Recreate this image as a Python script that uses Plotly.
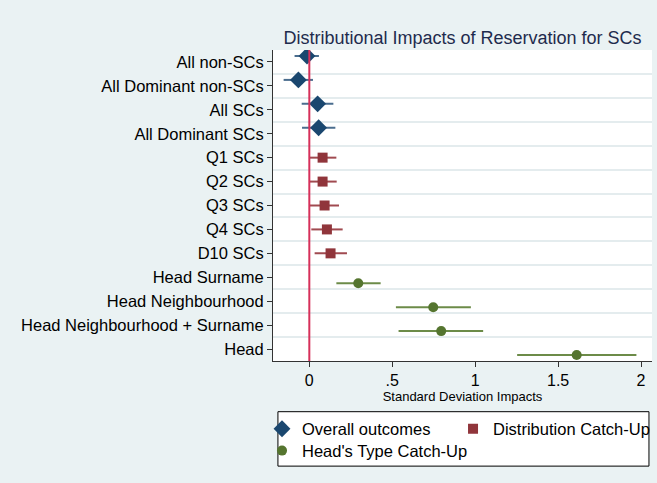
import plotly.graph_objects as go

categories = ["All non-SCs", "All Dominant non-SCs", "All SCs", "All Dominant SCs",
              "Q1 SCs", "Q2 SCs", "Q3 SCs", "Q4 SCs", "D10 SCs",
              "Head Surname", "Head Neighbourhood", "Head Neighbourhood + Surname", "Head"]

overall_cats = ["All non-SCs", "All Dominant non-SCs", "All SCs", "All Dominant SCs"]
overall_est = [-0.014, -0.066, 0.050, 0.056]
overall_lo = [-0.089, -0.155, -0.046, -0.044]
overall_hi = [0.058, 0.022, 0.145, 0.157]

dist_cats = ["Q1 SCs", "Q2 SCs", "Q3 SCs", "Q4 SCs", "D10 SCs"]
dist_est = [0.080, 0.080, 0.092, 0.106, 0.128]
dist_lo = [0.002, 0.002, 0.002, 0.012, 0.032]
dist_hi = [0.163, 0.165, 0.179, 0.201, 0.227]

head_cats = ["Head Surname", "Head Neighbourhood", "Head Neighbourhood + Surname", "Head"]
head_est = [0.295, 0.747, 0.795, 1.612]
head_lo = [0.163, 0.522, 0.538, 1.253]
head_hi = [0.430, 0.974, 1.048, 1.972]

xtick_vals = [0, 0.5, 1, 1.5, 2]
xtick_text = ["0", ".5", "1", "1.5", "2"]

BG = "#EAF2F3"
GRID = "#E4ECEE"
FONT = "Liberation Sans, Arial, sans-serif"

series = [
    ("Overall outcomes", overall_cats, overall_est, overall_lo, overall_hi,
     "#1A476F", "#4A6D8E", "diamond", 13, -0.25, "legend"),
    ("Distribution Catch-Up", dist_cats, dist_est, dist_lo, dist_hi,
     "#90353B", "#A04A50", "square", 10, 0.0, "legend2"),
    ("Head's Type Catch-Up", head_cats, head_est, head_lo, head_hi,
     "#55752F", "#6C8B48", "circle", 10, 0.25, "legend3"),
]

fig = go.Figure()
for name, cats, est, lo, hi, col, cicol, sym, size, off, leg in series:
    ys = [categories.index(c) + off for c in cats]
    cx, cy = [], []
    for l, h, y in zip(lo, hi, ys):
        cx += [l, h, None]
        cy += [y, y, None]
    fig.add_trace(go.Scatter(x=cx, y=cy, mode="lines",
                             line=dict(color=cicol, width=2),
                             showlegend=False, hoverinfo="skip"))
    fig.add_trace(go.Scatter(x=est, y=ys, mode="markers", name=name,
                             marker=dict(symbol=sym, size=size, color=col,
                                         line=dict(width=0)),
                             legend=leg))

fig.add_shape(type="line", xref="x", yref="paper", x0=0, x1=0, y0=0, y1=1,
              line=dict(color="#D6305A", width=2), layer="above")

fig.add_shape(type="rect", xref="paper", yref="paper",
              x0=0.013, x1=0.992, y0=-0.338, y1=-0.163,
              line=dict(color="#000000", width=1), fillcolor="white", layer="below")

legfont = dict(family=FONT, size=16.5, color="#000000")
fig.update_layout(
    width=657, height=483,
    margin=dict(l=273, r=5, t=50, b=122, autoexpand=False),
    paper_bgcolor=BG, plot_bgcolor="white",
    font=dict(family=FONT, color="#000000"),
    title=dict(text="Distributional Impacts of Reservation for SCs",
               x=0.5, xref="paper", xanchor="center",
               y=(483 - 38) / 483, yref="container", yanchor="middle",
               font=dict(family=FONT, size=18, color="#1E2B4D")),
    legend=dict(x=-0.029, y=-0.2186, xanchor="left", yanchor="middle",
                bgcolor="rgba(0,0,0,0)", borderwidth=0, font=legfont),
    legend2=dict(x=0.475, y=-0.2186, xanchor="left", yanchor="middle",
                 bgcolor="rgba(0,0,0,0)", borderwidth=0, font=legfont),
    legend3=dict(x=-0.029, y=-0.289, xanchor="left", yanchor="middle",
                 bgcolor="rgba(0,0,0,0)", borderwidth=0, font=legfont),
    xaxis=dict(range=[-0.219, 2.066], tickvals=xtick_vals, ticktext=xtick_text,
               showgrid=False, zeroline=False, showline=True, linecolor="#333333",
               linewidth=1, ticks="outside", ticklen=5, tickcolor="#333333",
               automargin=False,
               tickfont=dict(family=FONT, size=16, color="#000000"),
               title=dict(text="Standard Deviation Impacts", standoff=1,
                          font=dict(family=FONT, size=13, color="#000000"))),
    yaxis=dict(range=[12.5, -0.5], tickvals=list(range(len(categories))),
               ticktext=categories, showgrid=False, zeroline=False,
               showline=True, linecolor="#333333", linewidth=1,
               ticks="outside", ticklen=5, tickcolor="#333333",
               automargin=False,
               tickfont=dict(family=FONT, size=16.5, color="#000000"),
               minor=dict(tickvals=[i - 0.5 for i in range(len(categories) + 1)],
                          showgrid=True, gridcolor=GRID, gridwidth=2, ticks="")),
)

fig.write_html("out.html")
